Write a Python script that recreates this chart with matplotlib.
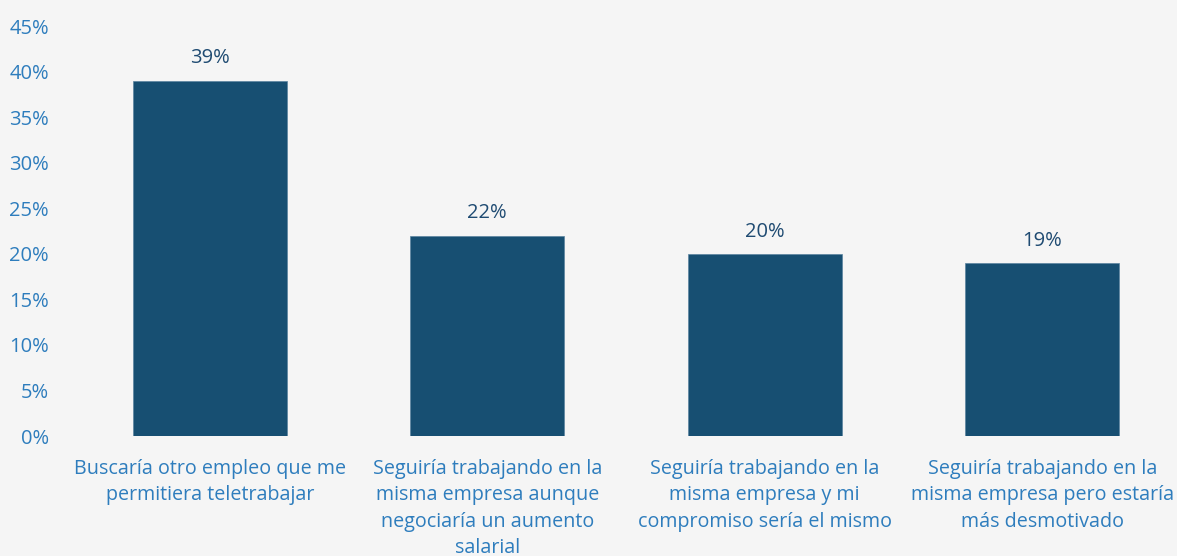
import matplotlib
matplotlib.use("Agg")
import matplotlib.pyplot as plt
from matplotlib.ticker import MultipleLocator, FuncFormatter

categories = [
    "Buscaría otro empleo que me\npermitiera teletrabajar",
    "Seguiría trabajando en la\nmisma empresa aunque\nnegociaría un aumento\nsalarial",
    "Seguiría trabajando en la\nmisma empresa y mi\ncompromiso sería el mismo",
    "Seguiría trabajando en la\nmisma empresa pero estaría\nmás desmotivado",
]
values = [39, 22, 20, 19]
value_labels = ["39%", "22%", "20%", "19%"]

plt.rcParams['font.family'] = ['Open Sans', 'DejaVu Sans']

bg = "#f5f5f5"
bar_color = "#174f72"
tick_color = "#2e7dbd"
label_color = "#1f4b72"

fig = plt.figure(figsize=(11.77, 5.56), dpi=100, facecolor=bg)
W, H = 1177, 556
left, right = 71, 1181
top, bottom = 26, 436
ax = fig.add_axes([left / W, 1 - bottom / H, (right - left) / W, (bottom - top) / H])
ax.set_facecolor(bg)

x = range(len(values))
ax.bar(x, values, width=0.555, color=bar_color, edgecolor="#5a84a0", linewidth=0.5)
for xi, v, lab in zip(x, values, value_labels):
    ax.annotate(lab, (xi, v), xytext=(0, 16), textcoords="offset points",
                ha="center", va="center", fontsize=14.5, color=label_color)

ax.set_xlim(-0.5, 3.5)
ax.set_ylim(0, 45)
ax.yaxis.set_major_locator(MultipleLocator(5))
ax.yaxis.set_major_formatter(FuncFormatter(lambda v, p: f"{int(v)}%"))
ax.set_xticks(list(x))
ax.set_xticklabels(categories, fontsize=14.2, color=tick_color, linespacing=1.43)
ax.tick_params(axis="y", labelsize=14.5, labelcolor=tick_color, length=0, pad=16)
ax.tick_params(axis="x", length=0, pad=16.5)
for s in ax.spines.values():
    s.set_visible(False)

fig.savefig("out.png", dpi=100, facecolor=bg)
